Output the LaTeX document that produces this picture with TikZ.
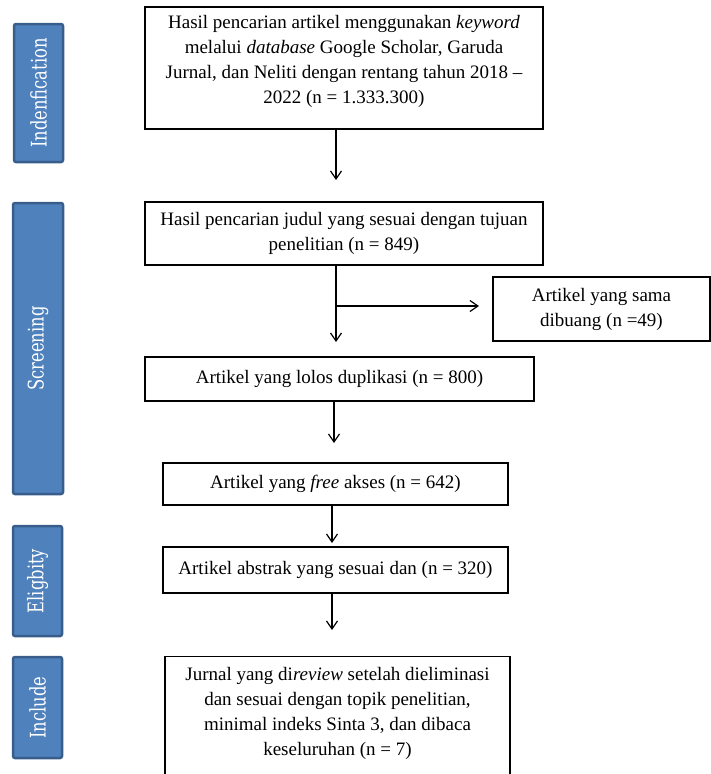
\documentclass[tikz,border=0pt]{standalone}
\usepackage{fontspec}
\setmainfont{Liberation Serif}
\newfontfamily\stagefont[FakeStretch=0.76]{DejaVu Serif}
\usetikzlibrary{arrows.meta}
\definecolor{stagefill}{HTML}{4F81BD}
\definecolor{stageline}{HTML}{385D8A}

\begin{document}
\begin{tikzpicture}[x=1pt, y=-1pt,
  stage/.style={draw=stageline, line width=2.5pt, fill=stagefill, rounded corners=2pt, rotate=90, text=white, inner sep=0pt, font=\stagefont\fontsize{21.5}{21.5}\selectfont},
  box/.style={draw, line width=1.3pt, align=center, inner sep=0pt, font=\fontsize{19}{25}\selectfont},
  link/.style={->, line width=1.2pt},
  >={Straight Barb[length=8pt, width=11pt]}]
\useasboundingbox (0,0) rectangle (711,774);

\node[stage, minimum width=138, minimum height=49] (ident) at (38.5,93) {Indenfication};
\node[stage, minimum width=291, minimum height=50] (screen) at (38,348.5) {Screening};
\node[stage, minimum width=110, minimum height=49] (elig) at (37.5,581) {Eligbity};
\node[stage, minimum width=101, minimum height=49] (incl) at (37.5,707.5) {Include};

\node[box, minimum width=398, minimum height=122] (hasil) at (344,68) {Hasil pencarian artikel menggunakan \textit{keyword}\\ melalui \textit{database} Google Scholar, Garuda\\ Jurnal, dan Neliti dengan rentang tahun 2018 --\\ 2022 (n = 1.333.300)\\[-8pt] \mbox{}};
\node[box, minimum width=398, minimum height=63] (judul) at (344,233.5) {Hasil pencarian judul yang sesuai dengan tujuan\\ penelitian (n = 849)};
\node[box, minimum width=217, minimum height=64] (sama) at (601.5,309) {Artikel yang sama\\ dibuang (n =49)};
\node[box, minimum width=389, minimum height=44] (lolos) at (339.5,379) {Artikel yang lolos duplikasi (n = 800)};
\node[box, minimum width=345, minimum height=42] (free) at (335.5,484) {Artikel yang \textit{free} akses (n = 642)};
\node[box, minimum width=345, minimum height=46] (abstrak) at (335.5,570) {Artikel abstrak yang sesuai dan (n = 320)};
\node[box, minimum width=345, inner ysep=10.5pt, anchor=north] (jurnal) at (337.5,656) {Jurnal yang di\textit{review} setelah dieliminasi\\ dan sesuai dengan topik penelitian,\\ minimal indeks Sinta 3, dan dibaca\\ keseluruhan (n = 7)\\ \mbox{}};

\coordinate (t1) at (336,180);
\coordinate (t2) at (336,342);
\coordinate (cab) at (336,306);
\coordinate (t3) at (479,306);
\coordinate (t4) at (334,443);
\coordinate (t5) at (332,543);
\coordinate (t6) at (332,630);
\draw[link] (t1 |- hasil.south) -- (t1);
\draw[link] (t2 |- judul.south) -- (t2);
\draw[link] (cab) -- (t3);
\draw[link] (t4 |- lolos.south) -- (t4);
\draw[link] (t5 |- free.south) -- (t5);
\draw[link] (t6 |- abstrak.south) -- (t6);
\end{tikzpicture}
\end{document}
